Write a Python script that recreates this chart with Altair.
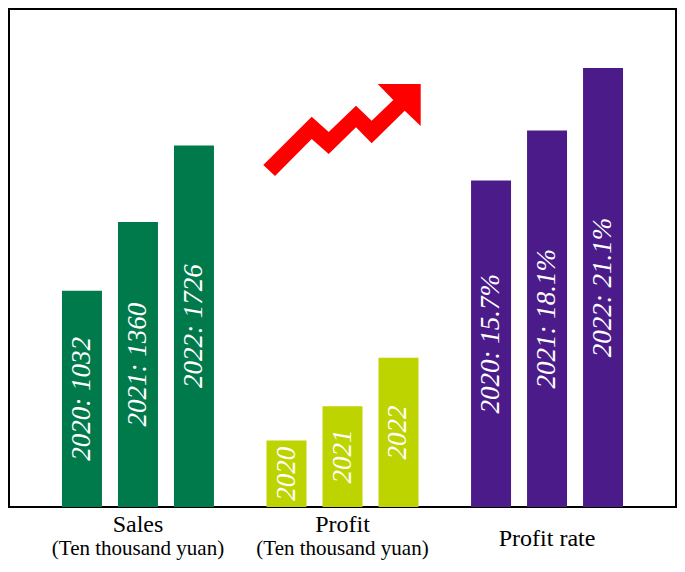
import altair as alt
import pandas as pd

# ---- data ----
groups = ["Sales", "Profit", "Profit rate"]
years = ["2020", "2021", "2022"]
sales = [1032, 1360, 1726]
profit = [162, 246, 364]
profit_rate = [15.7, 18.1, 21.1]
line1 = ["Sales", "Profit", "Profit rate"]
line2 = ["(Ten thousand yuan)", "(Ten thousand yuan)", ""]

rows = []
for g, vals in zip(groups, [sales, profit, profit_rate]):
    for y, v in zip(years, vals):
        if g == "Sales":
            lab = f"{y}: {v}"
        elif g == "Profit":
            lab = y
        else:
            lab = f"{y}: {v}%"
        rows.append({"group": g, "year": y, "value": v, "mid": v / 2, "label": lab})
df = pd.DataFrame(rows)
cats = pd.DataFrame({"group": groups, "l1": line1, "l2": line2})

FONT = "Liberation Serif"
xscale = alt.Scale(domain=groups, paddingInner=0.257, paddingOuter=0.259, align=0.5)
xo = alt.XOffset("year:N", scale=alt.Scale(domain=years, paddingInner=0.286, paddingOuter=0))
xenc = alt.X("group:N", scale=xscale, axis=None)


def group_layer(name, color, ymax):
    base = alt.Chart(df).transform_filter(alt.datum.group == name)
    ysc = alt.Scale(domain=[0, ymax])
    bars = base.mark_bar(color=color).encode(
        x=xenc, xOffset=xo, y=alt.Y("value:Q", scale=ysc, axis=None)
    )
    text = base.mark_text(
        angle=270, color="white", font=FONT, fontStyle="italic", fontSize=27,
        align="center", baseline="middle"
    ).encode(x=xenc, xOffset=xo, y=alt.Y("mid:Q", scale=ysc, axis=None), text="label:N")
    return alt.layer(bars, text)


g_sales = group_layer("Sales", "#00794B", 2377)
g_profit = group_layer("Profit", "#BDD400", 1215)
g_rate = group_layer("Profit rate", "#4A1B89", 23.94)

arrow_path = (
    "M-1,0.445 L-0.385,-0.169 L-0.169,0.025 L0.178,-0.309 L0.377,-0.118 "
    "L0.652,-0.381 L0.454,-0.584 L1,-0.584 L1,-0.051 L0.797,-0.245 "
    "L0.377,0.169 L0.178,-0.034 L-0.169,0.305 L-0.385,0.114 L-0.851,0.584 Z"
)
arrow = alt.Chart(pd.DataFrame({"a": [0]})).mark_point(
    shape=arrow_path, filled=True, color="#FF0000", opacity=1, size=24775, strokeWidth=0
).encode(x=alt.value(333), y=alt.value(121))

cbase = alt.Chart(cats)
lab_main = cbase.transform_filter(alt.datum.l2 != "").mark_text(
    font=FONT, fontSize=24, color="black", align="center", baseline="middle"
).encode(x=xenc, y=alt.value(516), text="l1:N")
lab_sub = cbase.transform_filter(alt.datum.l2 != "").mark_text(
    font=FONT, fontSize=21, color="black", align="center", baseline="middle"
).encode(x=xenc, y=alt.value(540), text="l2:N")
lab_single = cbase.transform_filter(alt.datum.l2 == "").mark_text(
    font=FONT, fontSize=24, color="black", align="center", baseline="middle"
).encode(x=xenc, y=alt.value(530), text="l1:N")

chart = alt.layer(
    g_sales, g_profit, g_rate, arrow, lab_main, lab_sub, lab_single
).resolve_scale(y="independent").properties(
    width=667, height=498,
    padding={"left": 1, "top": 1, "right": 1, "bottom": 53},
    autosize="none",
    background="white",
).configure_view(stroke="black", strokeWidth=2)

chart.save("out.html", embed_options={"renderer": "svg", "actions": False})
